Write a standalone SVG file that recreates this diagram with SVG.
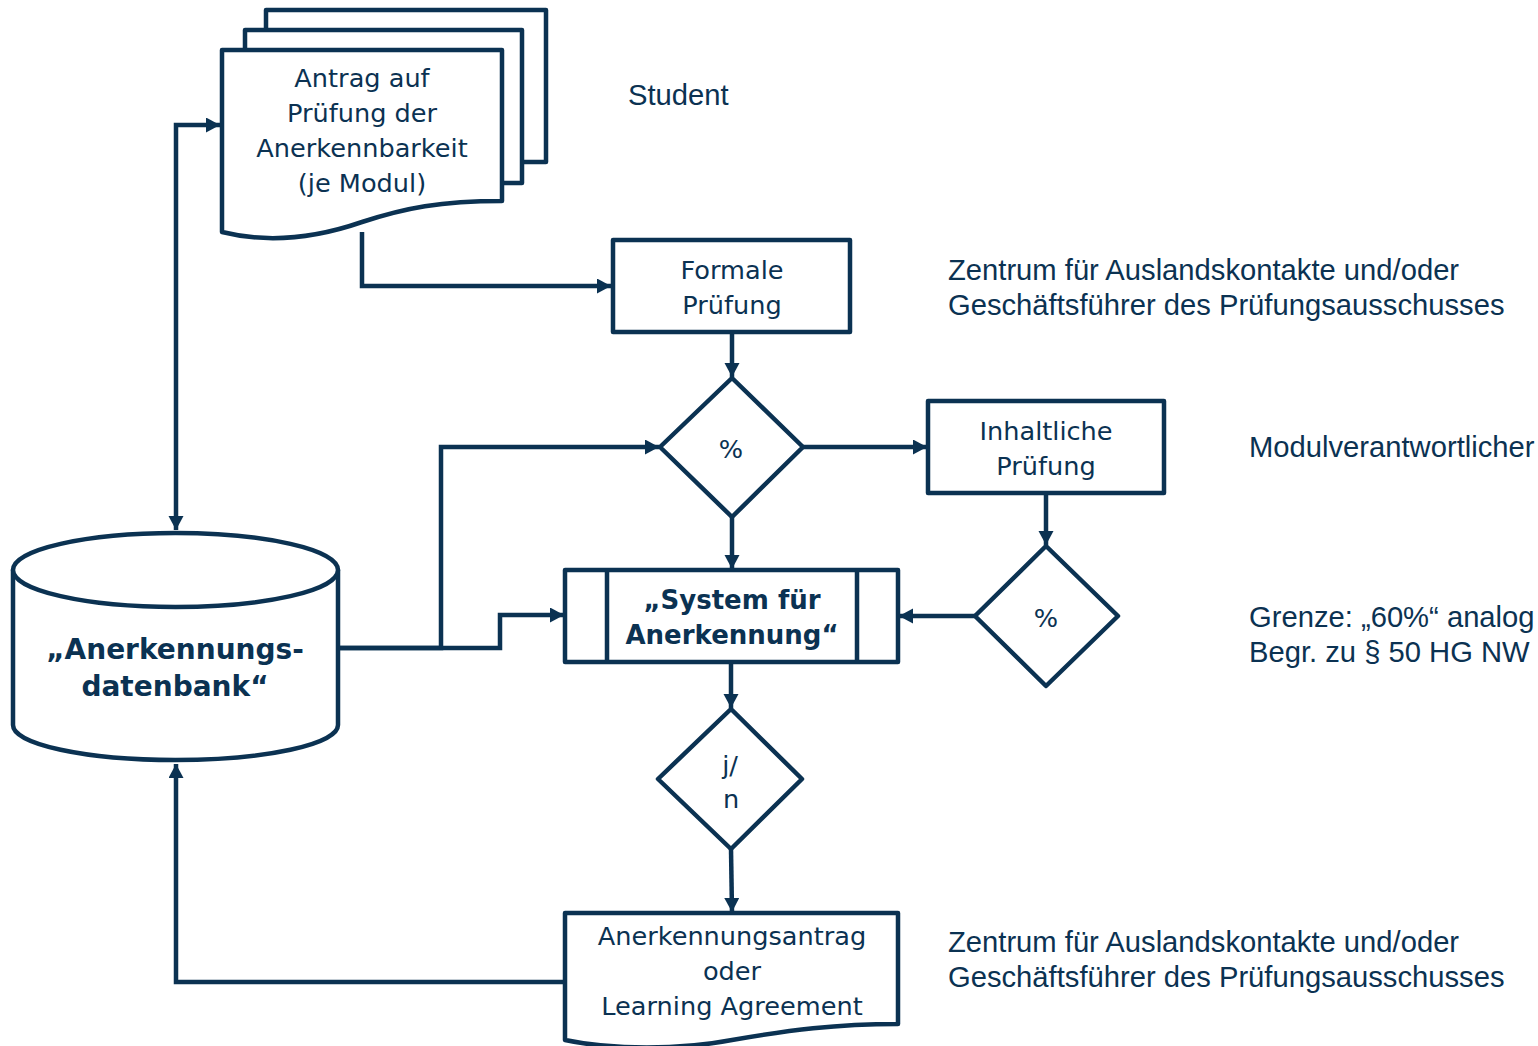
<svg xmlns="http://www.w3.org/2000/svg" width="1538" height="1046" viewBox="0 0 1538 1046">
<style>
.s{fill:#fff;stroke:#0b3252;stroke-width:4.5;stroke-linejoin:round}
.c{fill:none;stroke:#0b3252;stroke-width:4.5;stroke-linejoin:miter}
.t{font-family:"DejaVu Sans",Verdana,sans-serif;font-size:25.6px;fill:#0b3252;text-anchor:middle}
.b{font-family:"DejaVu Sans",Verdana,sans-serif;font-weight:bold;fill:#0b3252;text-anchor:middle}
.l{font-family:"Liberation Sans",Arial,sans-serif;font-size:29.2px;fill:#0b3252}
</style>
<defs>
<marker id="a" markerUnits="userSpaceOnUse" markerWidth="16" markerHeight="16" refX="14" refY="7.5" orient="auto-start-reverse">
<path d="M0,0 L14,7.5 L0,15 z" fill="#0b3252"/>
</marker>
</defs>
<rect width="1538" height="1046" fill="#fff"/>
<g id="connectors">
<path class="c" d="M176,530 V125 H220" marker-start="url(#a)" marker-end="url(#a)"/>
<path class="c" d="M362,232 V286 H611" marker-end="url(#a)"/>
<path class="c" d="M732,332 V377" marker-end="url(#a)"/>
<path class="c" d="M338,648 H441 V447 H659" marker-end="url(#a)"/>
<path class="c" d="M338,648 H500 V615 H564" marker-end="url(#a)"/>
<path class="c" d="M803,447 H927" marker-end="url(#a)"/>
<path class="c" d="M732,517 V569" marker-end="url(#a)"/>
<path class="c" d="M1046,493 V545" marker-end="url(#a)"/>
<path class="c" d="M975,616 H899" marker-end="url(#a)"/>
<path class="c" d="M731,662 V708" marker-end="url(#a)"/>
<path class="c" d="M731,849 L732,912" marker-end="url(#a)"/>
<path class="c" d="M565,982 H176 V764" marker-end="url(#a)"/>
</g>
<g id="antrag">
<rect class="s" x="266" y="10" width="280" height="152"/>
<rect class="s" x="245" y="30" width="277" height="153"/>
<path class="s" d="M222,50 H502 V201 C440,201 405,208 362,222 C310,240 262,242 222,232 Z"/>
<text class="t" x="362" y="87">Antrag auf</text>
<text class="t" x="362" y="122">Prüfung der</text>
<text class="t" x="362" y="157">Anerkennbarkeit</text>
<text class="t" x="362" y="192">(je Modul)</text>
</g>
<g id="formale">
<rect class="s" x="613" y="240" width="237" height="92"/>
<text class="t" x="732" y="279">Formale</text>
<text class="t" x="732" y="314">Prüfung</text>
</g>
<g id="d1">
<path class="s" d="M732,378 L803,447 L732,517 L660,447 Z"/>
<text class="t" x="731" y="458">%</text>
</g>
<g id="inhalt">
<rect class="s" x="928" y="401" width="236" height="92"/>
<text class="t" x="1046" y="440">Inhaltliche</text>
<text class="t" x="1046" y="475">Prüfung</text>
</g>
<g id="d2">
<path class="s" d="M1046,546 L1118,616 L1046,686 L975,616 Z"/>
<text class="t" x="1046" y="627">%</text>
</g>
<g id="system">
<rect class="s" x="565" y="570" width="333" height="92"/>
<path class="c" d="M607,570 V662 M857,570 V662"/>
<text class="b" font-size="26" x="732" y="609">„System für</text>
<text class="b" font-size="26" x="732" y="644">Anerkennung“</text>
</g>
<g id="d3">
<path class="s" d="M731,709 L802,779 L731,849 L658,779 Z"/>
<text class="t" x="730" y="774">j/</text>
<text class="t" x="731" y="808">n</text>
</g>
<g id="ergebnis">
<path class="s" d="M565,913 H898 V1024 C835,1024 790,1030 732,1040 C680,1050 612,1050 565,1040 Z"/>
<text class="t" x="732" y="945">Anerkennungsantrag</text>
<text class="t" x="732" y="980">oder</text>
<text class="t" x="732" y="1015">Learning Agreement</text>
</g>
<g id="datenbank">
<path class="s" d="M13,570 V725 A162.5,35 0 0 0 338,725 V570 Z"/>
<ellipse class="s" cx="175.5" cy="570" rx="162.5" ry="37"/>
<text class="b" font-size="28" x="175" y="659">„Anerkennungs-</text>
<text class="b" font-size="28" x="175" y="696">datenbank“</text>
</g>
<g id="labels">
<text class="l" x="628" y="105">Student</text>
<text class="l" x="948" y="280">Zentrum für Auslandskontakte und/oder</text>
<text class="l" x="948" y="315">Geschäftsführer des Prüfungsausschusses</text>
<text class="l" x="1249" y="457">Modulverantwortlicher</text>
<text class="l" x="1249" y="627">Grenze: „60%“ analog</text>
<text class="l" x="1249" y="662">Begr. zu § 50 HG NW</text>
<text class="l" x="948" y="952">Zentrum für Auslandskontakte und/oder</text>
<text class="l" x="948" y="987">Geschäftsführer des Prüfungsausschusses</text>
</g>
</svg>
